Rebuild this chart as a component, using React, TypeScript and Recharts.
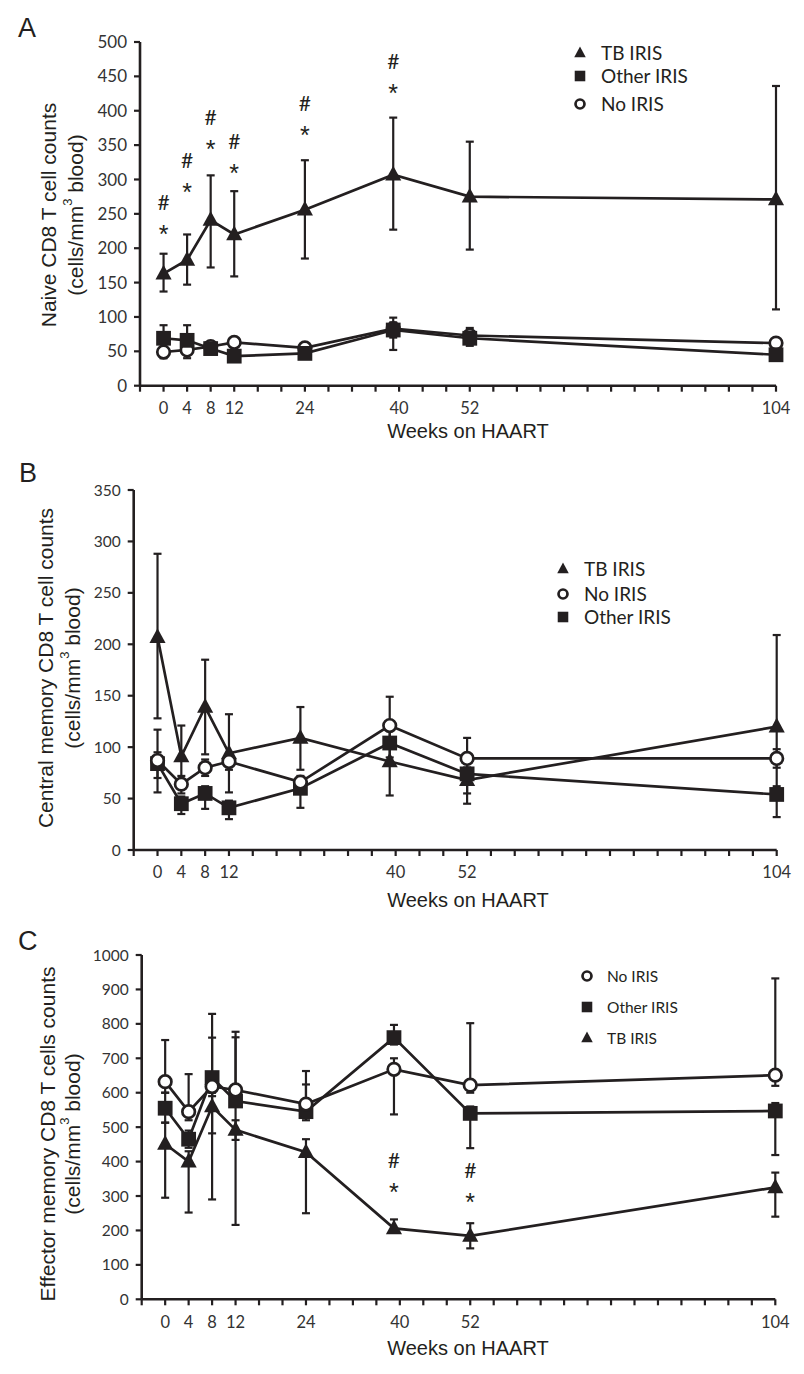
import React from 'react';
import { ComposedChart, Line, XAxis, YAxis, ErrorBar, Scatter, Legend } from 'recharts';

const INK = '#231f20';
const TICK_INK = '#333333';

// ---------- shared x values ----------
const weeks = [0, 4, 8, 12, 24, 39, 52, 104];
const xTicks = [-4, 0, 4, 8, 12, 16, 20, 24, 28, 32, 36, 40, 44, 48, 52, 56, 60, 64, 68, 72, 76, 80, 84, 88, 92, 96, 100, 104];
const xLabelWeeksAC = [0, 4, 8, 12, 24, 40, 52, 104];
const xLabelsAC = ['0', '4', '8', '12', '24', '40', '52', '104'];
const xLabelWeeksB = [0, 4, 8, 12, 40, 52, 104];
const xLabelsB = ['0', '4', '8', '12', '40', '52', '104'];

// ---------- Panel A: Naive CD8 ----------
const aTicks = [0, 50, 100, 150, 200, 250, 300, 350, 400, 450, 500];
const aTb = [163, 183, 241, 220, 256, 307, 275, 271];
const aTbLo = [137, 147, 172, 159, 185, 227, 198, 111];
const aTbHi = [192, 220, 306, 283, 328, 390, 355, 436];
const aOther = [69, 66, 54, 43, 47, 81, 69, 45];
const aOtherLo = [60, 58, 50, 39, 43, 52, 58, 40];
const aOtherHi = [88, 88, 60, 48, 52, 99, 80, 50];
const aNo = [49, 52, 57, 63, 55, 83, 73, 62];
const aNoLo = [40, 40, 51, 57, 50, 70, 64, 57];
const aNoHi = [55, 57, 62, 68, 60, 92, 84, 67];
const aAnnotWeeks = [0, 4, 8, 12, 24, 39];
const aAnnotY = [229, 290, 353, 318, 373, 434];

// ---------- Panel B: Central memory CD8 ----------
const bTicks = [0, 50, 100, 150, 200, 250, 300, 350];
const bTb = [207, 91, 139, 94, 109, 86, 68, 120];
const bTbLo = [128, 62, 93, 56, 78, 53, 45, 60];
const bTbHi = [288, 121, 185, 132, 139, 100, 80, 209];
const bNo = [87, 64, 80, 86, 66, 121, 89, 89];
const bNoLo = [70, 55, 72, 78, 60, 100, 80, 80];
const bNoHi = [117, 72, 88, 94, 72, 149, 109, 98];
const bOther = [84, 45, 55, 41, 60, 104, 74, 54];
const bOtherLo = [56, 35, 40, 30, 41, 90, 55, 32];
const bOtherHi = [95, 52, 62, 48, 66, 118, 84, 62];

// ---------- Panel C: Effector memory CD8 ----------
const cTicks = [0, 100, 200, 300, 400, 500, 600, 700, 800, 900, 1000];
const cNo = [632, 545, 618, 608, 567, 668, 622, 651];
const cNoLo = [600, 520, 590, 580, 545, 537, 600, 620];
const cNoHi = [753, 654, 760, 761, 663, 700, 802, 932];
const cOther = [555, 465, 644, 576, 545, 760, 540, 547];
const cOtherLo = [513, 440, 482, 463, 520, 740, 439, 419];
const cOtherHi = [600, 490, 829, 777, 624, 797, 560, 570];
const cTb = [451, 400, 560, 492, 427, 206, 184, 325];
const cTbLo = [295, 252, 290, 216, 250, 195, 148, 240];
const cTbHi = [513, 430, 600, 520, 465, 232, 221, 368];
const cAnnotWeeks = [39, 52];
const cAnnotY = [327, 298];

type Kind = 'tri' | 'sq' | 'circ';

const buildRows = (tb: number[], tbLo: number[], tbHi: number[], other: number[], oLo: number[], oHi: number[], no: number[], nLo: number[], nHi: number[]) =>
  weeks.map((w, i) => ({
    week: w,
    tb: tb[i],
    tbErr: [tb[i] - tbLo[i], tbHi[i] - tb[i]],
    other: other[i],
    otherErr: [other[i] - oLo[i], oHi[i] - other[i]],
    no: no[i],
    noErr: [no[i] - nLo[i], nHi[i] - no[i]],
  }));

const rowsA = buildRows(aTb, aTbLo, aTbHi, aOther, aOtherLo, aOtherHi, aNo, aNoLo, aNoHi);
const rowsB = buildRows(bTb, bTbLo, bTbHi, bOther, bOtherLo, bOtherHi, bNo, bNoLo, bNoHi);
const rowsC = buildRows(cTb, cTbLo, cTbHi, cOther, cOtherLo, cOtherHi, cNo, cNoLo, cNoHi);

const annotA = aAnnotWeeks.map((w, i) => ({ week: w, star: aAnnotY[i] }));
const annotC = cAnnotWeeks.map((w, i) => ({ week: w, star: cAnnotY[i] }));

const drawMarker = (kind: Kind, cx: number, cy: number, s: number, key?: any) => {
  if (kind === 'tri') {
    return (
      <polygon key={key} points={`${cx},${cy - 8 * s} ${cx + 7.2 * s},${cy + 5.2 * s} ${cx - 7.2 * s},${cy + 5.2 * s}`} fill={INK} />
    );
  }
  if (kind === 'sq') {
    return <rect key={key} x={cx - 6.6 * s} y={cy - 6.6 * s} width={13.2 * s} height={13.2 * s} fill={INK} />;
  }
  return <circle key={key} cx={cx} cy={cy} r={5.6 * s} fill="#ffffff" stroke={INK} strokeWidth={2.7} />;
};

const dotFor = (kind: Kind) => (p: any) => {
  if (p.cx == null || p.cy == null) return <g key={p.index} />;
  return drawMarker(kind, p.cx, p.cy, 1.12, `${kind}-${p.index}`);
};

const AnnotShape = (p: any) => {
  const { cx, cy } = p;
  return (
    <g fill={INK}>
      <text x={cx} y={cy - 26} dy="0.36em" textAnchor="middle" fontFamily="Lato" fontSize={21}>#</text>
      <text x={cx} y={cy} dy="0.58em" textAnchor="middle" fontFamily="'Liberation Sans', Arial, sans-serif" fontSize={25}>*</text>
    </g>
  );
};

const makeXTick = (vals: number[], labels: string[]) => (props: any) => {
  const { x, y, payload } = props;
  const idx = vals.indexOf(payload.value);
  if (idx < 0) return <g />;
  return (
    <text x={x} y={y} dy="0.75em" textAnchor="middle" fontFamily="Lato" fontSize={16.5} fill={TICK_INK}>
      {labels[idx]}
    </text>
  );
};

type LegendItem = { label: string; kind: Kind };

const makeLegend = (items: LegendItem[], offsets: number[], fs: number, textX: number, s: number) => () => (
  <svg width={160} height={90} style={{ overflow: 'visible' }}>
    {items.map((it, i) => (
      <g key={it.label}>
        {drawMarker(it.kind, 10, 10 + offsets[i], s)}
        <text x={textX} y={10 + offsets[i]} dy="0.36em" fontFamily="Lato" fontSize={fs} fill={INK}>
          {it.label}
        </text>
      </g>
    ))}
  </svg>
);

type SeriesDef = { key: string; errKey: string; kind: Kind };

type PanelProps = {
  top: number;
  height: number;
  margin: { top: number; right: number; bottom: number; left: number };
  yDomain: [number, number];
  yTicks: number[];
  yFont: number;
  rows: any[];
  series: SeriesDef[];
  annots?: any[];
  xVals: number[];
  xLabels: string[];
  legend: () => React.ReactElement;
  legendPos: { left: number; top: number };
};

const Panel = (pp: PanelProps) => (
  <div style={{ position: 'absolute', left: 0, top: pp.top, width: 804, height: pp.height }}>
    <ComposedChart width={804} height={pp.height} data={pp.rows} margin={pp.margin}>
      <XAxis
        dataKey="week"
        type="number"
        domain={[-4, 104]}
        ticks={xTicks}
        interval={0}
        height={30}
        tickSize={6}
        tickMargin={10}
        axisLine={{ stroke: INK, strokeWidth: 2.6 }}
        tickLine={{ stroke: INK, strokeWidth: 2.2 }}
        tick={makeXTick(pp.xVals, pp.xLabels)}
      />
      <YAxis
        type="number"
        domain={pp.yDomain}
        ticks={pp.yTicks}
        interval={0}
        width={60}
        tickSize={6}
        tickMargin={7}
        axisLine={{ stroke: INK, strokeWidth: 2.6 }}
        tickLine={{ stroke: INK, strokeWidth: 2.2 }}
        tick={{ fontFamily: 'Lato', fontSize: pp.yFont, fill: TICK_INK }}
      />
      <Legend
        layout="vertical"
        align="center"
        verticalAlign="middle"
        content={pp.legend}
        wrapperStyle={{ left: pp.legendPos.left, top: pp.legendPos.top, width: 160, height: 90 }}
      />
      {pp.series.map((s) => (
        <Line
          key={s.key}
          dataKey={s.key}
          type="linear"
          stroke={INK}
          strokeWidth={2.7}
          isAnimationActive={false}
          dot={dotFor(s.kind)}
          activeDot={false}
          legendType="none"
        >
          <ErrorBar dataKey={s.errKey} direction="y" width={4} stroke={INK} strokeWidth={2.2} />
        </Line>
      ))}
      {pp.annots ? (
        <Scatter data={pp.annots} dataKey="star" isAnimationActive={false} shape={AnnotShape} legendType="none" />
      ) : null}
    </ComposedChart>
  </div>
);

const legendA = makeLegend(
  [
    { label: 'TB IRIS', kind: 'tri' },
    { label: 'Other IRIS', kind: 'sq' },
    { label: 'No IRIS', kind: 'circ' },
  ],
  [0, 23, 51],
  19,
  31,
  0.8
);
const legendB = makeLegend(
  [
    { label: 'TB IRIS', kind: 'tri' },
    { label: 'No IRIS', kind: 'circ' },
    { label: 'Other IRIS', kind: 'sq' },
  ],
  [0, 25, 48],
  19,
  31,
  0.8
);
const legendC = makeLegend(
  [
    { label: 'No IRIS', kind: 'circ' },
    { label: 'Other IRIS', kind: 'sq' },
    { label: 'TB IRIS', kind: 'tri' },
  ],
  [0, 31, 62],
  15.5,
  30,
  0.8
);

const seriesA: SeriesDef[] = [
  { key: 'no', errKey: 'noErr', kind: 'circ' },
  { key: 'other', errKey: 'otherErr', kind: 'sq' },
  { key: 'tb', errKey: 'tbErr', kind: 'tri' },
];
const seriesB: SeriesDef[] = [
  { key: 'tb', errKey: 'tbErr', kind: 'tri' },
  { key: 'other', errKey: 'otherErr', kind: 'sq' },
  { key: 'no', errKey: 'noErr', kind: 'circ' },
];
const seriesC: SeriesDef[] = [
  { key: 'tb', errKey: 'tbErr', kind: 'tri' },
  { key: 'other', errKey: 'otherErr', kind: 'sq' },
  { key: 'no', errKey: 'noErr', kind: 'circ' },
];

const TITLE_FONT = "'Liberation Sans', Arial, sans-serif";

const YTitle = ({ x1, x2, cy, line1 }: { x1: number; x2: number; cy: number; line1: string }) => (
  <g fontFamily={TITLE_FONT} fontSize={21} fill={INK}>
    <text x={x1} y={cy} textAnchor="middle" dominantBaseline="central" transform={`rotate(-90 ${x1} ${cy})`}>
      {line1}
    </text>
    <text x={x2} y={cy} textAnchor="middle" dominantBaseline="central" transform={`rotate(-90 ${x2} ${cy})`}>
      (cells/mm<tspan fontSize={13} dy={-8}>3</tspan>
      <tspan dy={8}> blood)</tspan>
    </text>
  </g>
);

export default function App() {
  return (
    <div style={{ position: 'absolute', left: 0, top: 0, width: 804, height: 1374, background: '#ffffff' }}>
      <Panel
        top={0}
        height={440}
        margin={{ top: 42, right: 28, bottom: 24.3, left: 80 }}
        yDomain={[0, 500]}
        yTicks={aTicks}
        yFont={17}
        rows={rowsA}
        series={seriesA}
        annots={annotA}
        xVals={xLabelWeeksAC}
        xLabels={xLabelsAC}
        legend={legendA}
        legendPos={{ left: 570, top: 43 }}
      />
      <Panel
        top={440}
        height={460}
        margin={{ top: 50, right: 27.3, bottom: 20, left: 73.7 }}
        yDomain={[0, 350]}
        yTicks={bTicks}
        yFont={15.5}
        rows={rowsB}
        series={seriesB}
        xVals={xLabelWeeksB}
        xLabels={xLabelsB}
        legend={legendB}
        legendPos={{ left: 553, top: 119 }}
      />
      <Panel
        top={900}
        height={474}
        margin={{ top: 55, right: 28.7, bottom: 44.7, left: 81.7 }}
        yDomain={[0, 1000]}
        yTicks={cTicks}
        yFont={15.5}
        rows={rowsC}
        series={seriesC}
        annots={annotC}
        xVals={xLabelWeeksAC}
        xLabels={xLabelsAC}
        legend={legendC}
        legendPos={{ left: 577, top: 66 }}
      />
      <svg width={804} height={1374} style={{ position: 'absolute', left: 0, top: 0, pointerEvents: 'none' }}>
        <g fontFamily={TITLE_FONT} fill={INK}>
          <text x={18} y={37} fontSize={27}>A</text>
          <text x={19} y={482} fontSize={27}>B</text>
          <text x={18} y={950} fontSize={27}>C</text>
          <text x={468} y={431} fontSize={20} textAnchor="middle" dominantBaseline="central">Weeks on HAART</text>
          <text x={468} y={900} fontSize={20} textAnchor="middle" dominantBaseline="central">Weeks on HAART</text>
          <text x={468} y={1348} fontSize={20} textAnchor="middle" dominantBaseline="central">Weeks on HAART</text>
        </g>
        <YTitle x1={48} x2={75} cy={215} line1="Naive CD8 T cell counts" />
        <YTitle x1={45} x2={72} cy={668} line1="Central memory CD8 T cell counts" />
        <YTitle x1={47} x2={72} cy={1134} line1="Effector memory CD8 T cells counts" />
      </svg>
    </div>
  );
}
